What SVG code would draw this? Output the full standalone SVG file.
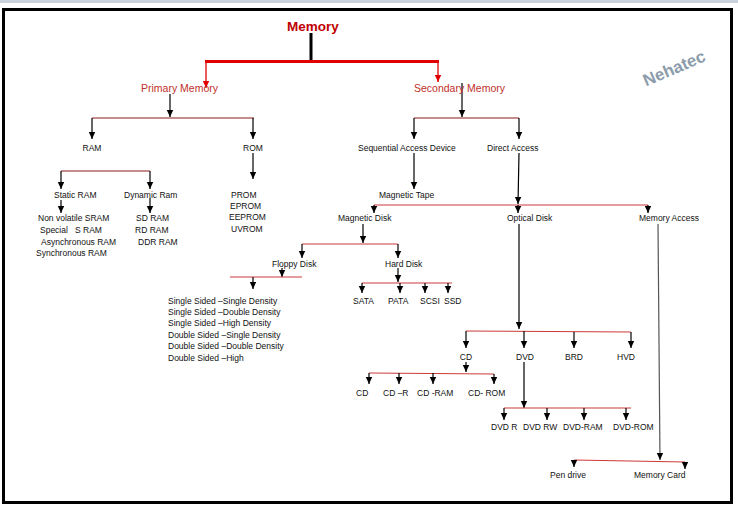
<svg xmlns="http://www.w3.org/2000/svg" width="738" height="506" viewBox="0 0 738 506">
<defs>
<style>
.t{font-family:"Liberation Sans",Arial,sans-serif;font-size:8.5px;fill:#111}
.m{text-anchor:middle}
.red{font-family:"Liberation Sans",Arial,sans-serif;font-size:10.5px;fill:#c0302a}
.k{stroke:#000;stroke-width:1.2;fill:none}
.r{stroke:#cc3a3a;stroke-width:1.2;fill:none}
.a{marker-end:url(#ah)}
</style>
<marker id="ah" viewBox="0 -4 8 8" refX="7" refY="0" markerWidth="8" markerHeight="8" markerUnits="userSpaceOnUse" orient="auto"><path d="M0,-3.2 L7,0 L0,3.2 z" fill="#000"/></marker>
<marker id="ahr" viewBox="0 -4 8 8" refX="7" refY="0" markerWidth="8" markerHeight="8" markerUnits="userSpaceOnUse" orient="auto"><path d="M0,-3.2 L7,0 L0,3.2 z" fill="#e00000"/></marker>
</defs>
<rect x="0" y="0" width="738" height="506" fill="#fff"/>
<rect x="0" y="0" width="738" height="3" fill="#c9d1dc"/>
<rect x="3.5" y="9.5" width="728" height="493" fill="#fff" stroke="#000" stroke-width="3"/>
<text x="674" y="74" transform="rotate(-23 674 68)" font-family="Liberation Sans,Arial,sans-serif" font-size="17" font-weight="bold" fill="#8c9cab" text-anchor="middle">Nehatec</text>

<g id="connectors">
<line x1="311" y1="33" x2="311" y2="60" stroke="#000" stroke-width="3"/>
<line x1="205" y1="61.5" x2="439" y2="61.5" stroke="#e00000" stroke-width="3"/>
<line x1="206" y1="62" x2="206" y2="88" stroke="#e00000" stroke-width="1.3" marker-end="url(#ahr)"/>
<line x1="438" y1="62" x2="438" y2="82" stroke="#e00000" stroke-width="1.3" marker-end="url(#ahr)"/>
<line class="k a" x1="170" y1="94" x2="170" y2="117"/>
<line x1="92" y1="118" x2="254" y2="118" stroke="#8b1a1a" stroke-width="1"/>
<line class="k a" x1="92" y1="118" x2="92" y2="139"/>
<line class="k a" x1="253" y1="118" x2="253" y2="139"/>
<line class="k a" x1="462" y1="83" x2="462" y2="117"/>
<line x1="414" y1="118" x2="519" y2="118" stroke="#8b1a1a" stroke-width="1"/>
<line class="k a" x1="414" y1="118" x2="414" y2="139"/>
<line class="k a" x1="519" y1="118" x2="519" y2="139"/>
<line class="k a" x1="253" y1="153" x2="253" y2="179"/>
<line x1="61" y1="171" x2="150" y2="171" stroke="#8b1a1a" stroke-width="1.2"/>
<line class="k a" x1="61" y1="171" x2="61" y2="189"/>
<line class="k a" x1="150" y1="171" x2="150" y2="189"/>
<line class="k a" x1="61" y1="200" x2="61" y2="213"/>
<line class="k a" x1="150" y1="198" x2="150" y2="213"/>
<line class="k a" x1="414" y1="153" x2="414" y2="189"/>
<line class="k a" x1="519" y1="153" x2="518" y2="204"/>
<line class="r" x1="374" y1="205" x2="648" y2="205"/>
<line class="k a" x1="374" y1="205" x2="374" y2="213"/>
<line class="k a" x1="518" y1="205" x2="518" y2="213"/>
<line class="k a" x1="648" y1="205" x2="648" y2="213"/>
<line class="k a" x1="363" y1="224" x2="363" y2="243"/>
<line class="r" x1="302" y1="244" x2="398" y2="244"/>
<line class="k a" x1="302" y1="244" x2="302" y2="258"/>
<line class="k a" x1="398" y1="244" x2="398" y2="258"/>
<line class="k a" x1="282" y1="268" x2="282" y2="277"/>
<line class="r" x1="230" y1="277" x2="302" y2="277"/>
<line class="k a" x1="253" y1="277" x2="253" y2="289"/>
<line class="k a" x1="398" y1="268" x2="398" y2="282"/>
<line class="r" x1="362" y1="283" x2="452" y2="283"/>
<line class="k a" x1="362" y1="283" x2="362" y2="293"/>
<line class="k a" x1="400" y1="283" x2="400" y2="293"/>
<line class="k a" x1="425" y1="283" x2="425" y2="293"/>
<line class="k a" x1="448" y1="283" x2="448" y2="293"/>
<line class="k a" x1="519" y1="224" x2="519" y2="329"/>
<line class="r" x1="466" y1="331" x2="631" y2="332"/>
<line class="k a" x1="466" y1="331" x2="466" y2="348"/>
<line class="k a" x1="524" y1="331" x2="524" y2="348"/>
<line class="k a" x1="574" y1="332" x2="574" y2="348"/>
<line class="k a" x1="631" y1="332" x2="631" y2="348"/>
<line class="k a" x1="466" y1="362" x2="466" y2="372"/>
<line class="r" x1="369" y1="373" x2="494" y2="374"/>
<line class="k a" x1="369" y1="373" x2="369" y2="384"/>
<line class="k a" x1="399" y1="373" x2="399" y2="384"/>
<line class="k a" x1="433" y1="373" x2="433" y2="384"/>
<line class="k a" x1="494" y1="374" x2="494" y2="384"/>
<line class="k a" x1="524" y1="362" x2="524" y2="408"/>
<line class="r" x1="504" y1="408" x2="631" y2="408"/>
<line class="k a" x1="504" y1="408" x2="504" y2="420"/>
<line class="k a" x1="547" y1="408" x2="547" y2="420"/>
<line class="k a" x1="584" y1="408" x2="584" y2="420"/>
<line class="k a" x1="626" y1="408" x2="626" y2="420"/>
<line x1="658" y1="224" x2="660" y2="460" stroke="#555" stroke-width="1.2" marker-end="url(#ah)"/>
<line class="r" x1="574" y1="460" x2="685" y2="462"/>
<line class="k a" x1="574" y1="460" x2="574" y2="467"/>
<line class="k a" x1="685" y1="462" x2="685" y2="469"/>
</g>

<g id="memory"><text x="313" y="31" text-anchor="middle" font-family="Liberation Sans,Arial,sans-serif" font-size="13.5" font-weight="bold" fill="#c00000">Memory</text></g>
<g id="primary"><text class="red" x="141" y="92">Primary Memory</text></g>
<g id="secondary"><text class="red" x="414" y="92">Secondary Memory</text></g>
<g id="ram"><text class="t m" x="92" y="151">RAM</text></g>
<g id="rom"><text class="t m" x="253" y="151">ROM</text></g>
<g id="static-ram"><text class="t" x="54" y="198">Static RAM</text></g>
<g id="dynamic-ram"><text class="t" x="124" y="198">Dynamic Ram</text></g>
<g id="static-list">
<text class="t" x="38" y="221">Non volatile SRAM</text>
<text class="t" x="40" y="233" xml:space="preserve">Special   S RAM</text>
<text class="t" x="41" y="245">Asynchronous RAM</text>
<text class="t" x="36" y="256">Synchronous RAM</text>
</g>
<g id="dynamic-list">
<text class="t" x="136" y="221">SD RAM</text>
<text class="t" x="135" y="233">RD RAM</text>
<text class="t" x="138" y="245">DDR RAM</text>
</g>
<g id="rom-list">
<text class="t" x="231" y="198">PROM</text>
<text class="t" x="230" y="209">EPROM</text>
<text class="t" x="229" y="220">EEPROM</text>
<text class="t" x="231" y="232">UVROM</text>
</g>
<g id="sequential"><text class="t" x="358" y="151">Sequential Access Device</text></g>
<g id="direct"><text class="t" x="487" y="151">Direct Access</text></g>
<g id="magnetic-tape"><text class="t" x="379" y="198">Magnetic Tape</text></g>
<g id="magnetic-disk"><text class="t" x="338" y="221">Magnetic Disk</text></g>
<g id="optical-disk"><text class="t" x="507" y="221">Optical Disk</text></g>
<g id="memory-access"><text class="t" x="639" y="221">Memory Access</text></g>
<g id="floppy"><text class="t" x="272" y="267">Floppy Disk</text></g>
<g id="hard"><text class="t" x="385" y="267">Hard Disk</text></g>
<g id="hard-list">
<text class="t" x="353" y="304">SATA</text>
<text class="t" x="388" y="304">PATA</text>
<text class="t" x="420" y="304">SCSI</text>
<text class="t" x="444" y="304">SSD</text>
</g>
<g id="floppy-list">
<text class="t" x="168" y="304">Single Sided –Single Density</text>
<text class="t" x="168" y="315">Single Sided –Double Density</text>
<text class="t" x="168" y="326">Single Sided –High Density</text>
<text class="t" x="168" y="338">Double Sided –Single Density</text>
<text class="t" x="168" y="349">Double Sided –Double Density</text>
<text class="t" x="168" y="361">Double Sided –High</text>
</g>
<g id="cd"><text class="t m" x="466" y="360">CD</text></g>
<g id="dvd"><text class="t m" x="525" y="360">DVD</text></g>
<g id="brd"><text class="t m" x="574" y="360">BRD</text></g>
<g id="hvd"><text class="t m" x="626" y="360">HVD</text></g>
<g id="cd-list">
<text class="t" x="356" y="396">CD</text>
<text class="t" x="383" y="396">CD –R</text>
<text class="t" x="417" y="396">CD -RAM</text>
<text class="t" x="468" y="396">CD- ROM</text>
</g>
<g id="dvd-list">
<text class="t" x="491" y="430">DVD R</text>
<text class="t" x="523" y="430">DVD RW</text>
<text class="t" x="563" y="430">DVD-RAM</text>
<text class="t" x="613" y="430">DVD-ROM</text>
</g>
<g id="pen-drive"><text class="t" x="550" y="478">Pen drive</text></g>
<g id="memory-card"><text class="t" x="634" y="478">Memory Card</text></g>
</svg>
